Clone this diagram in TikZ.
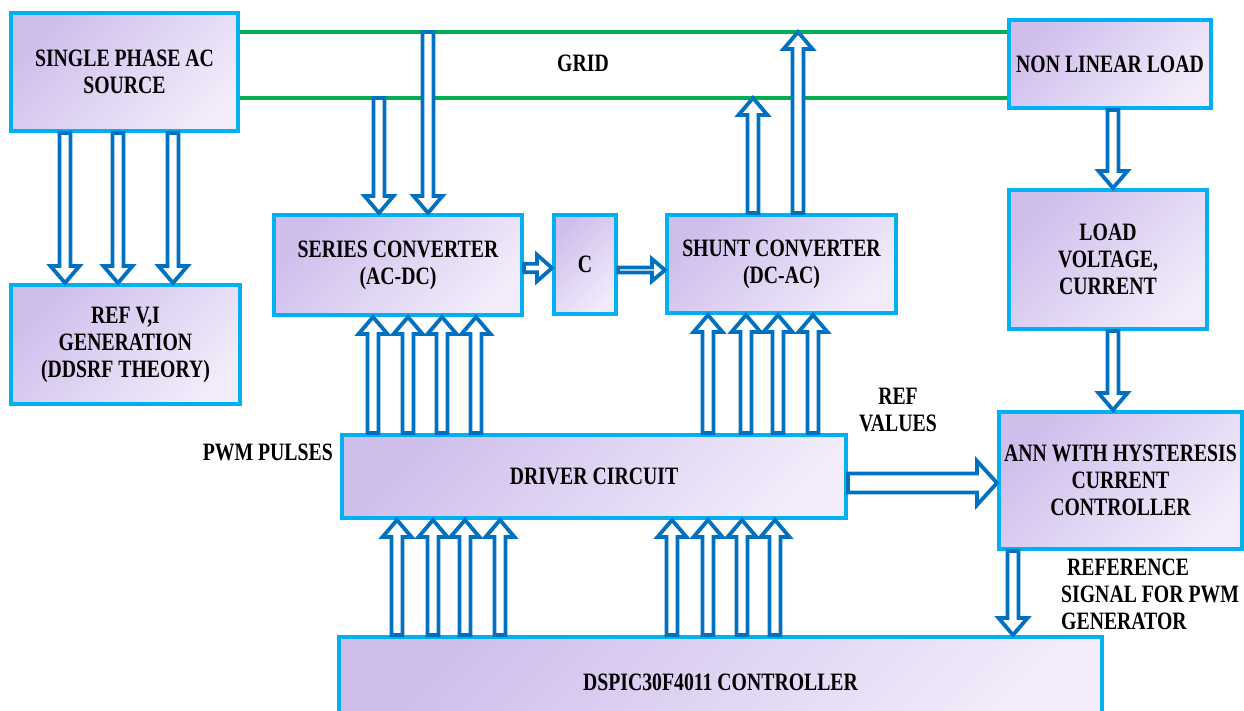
\documentclass[tikz,border=0pt]{standalone}
\usepackage{fontspec}
\setmainfont{Liberation Serif}[FakeStretch=0.79]
\usetikzlibrary{calc}
\definecolor{boxblue}{RGB}{0,176,240}
\definecolor{arrowblue}{RGB}{0,112,192}
\definecolor{gridgreen}{RGB}{0,176,80}
\definecolor{boxdark}{RGB}{207,190,236}
\definecolor{boxlight}{RGB}{241,235,250}

\begin{document}
\begin{tikzpicture}[x=1pt,y=-1pt,
    lbl/.style={font=\bfseries\fontsize{25}{27}\selectfont, align=center, inner sep=0pt},
    block/.style={lbl, draw=boxblue, line width=4pt, top color=boxdark,
      bottom color=boxlight, shading angle=45},
    gridline/.style={draw=gridgreen, line width=4pt},
    blockarrow/.style n args={3}{draw=arrowblue, line width=3.8pt, fill=white,
      line join=miter,
      to path={let \p1=(\tikztostart), \p2=(\tikztotarget),
        \n1={atan2(\y2-\y1,\x2-\x1)}, \n2={veclen(\x2-\x1,\y2-\y1)} in
        ++({\n1+90}:#1) -- ++(\n1:{\n2-#3}) -- ++({\n1+90}:{#2-#1})
        -- (\tikztotarget)
        -- ($(\tikztotarget)+({\n1+180}:#3)+({\n1-90}:#2)$)
        -- ++({\n1+90}:{#2-#1}) -- ++({\n1+180}:{\n2-#3}) -- cycle}},
    hollow/.style={blockarrow={5.5pt}{14.5pt}{17pt}}]
  \useasboundingbox (0,0) rectangle (1244,711);
  \clip (0,0) rectangle (1244,711);

  \node[block, minimum width=227pt, minimum height=118pt] (src) at (124.5,72)
    {SINGLE PHASE AC\\SOURCE};
  \node[block, minimum width=229pt, minimum height=119pt] (ref) at (125.5,344.5)
    {REF V,I\\GENERATION\\(DDSRF THEORY)};
  \node[block, minimum width=248pt, minimum height=100pt] (ser) at (398,265)
    {SERIES CONVERTER\\(AC-DC)};
  \node[block, minimum width=62pt, minimum height=99pt] (cap) at (585,264.5) {C};
  \node[block, minimum width=229pt, minimum height=98pt] (shu) at (781.5,264)
    {SHUNT CONVERTER\\(DC-AC)};
  \node[block, minimum width=202pt, minimum height=88pt] (nll) at (1110,64)
    {NON LINEAR LOAD};
  \node[block, minimum width=198pt, minimum height=139pt] (lvc) at (1108,259.5)
    {LOAD\\VOLTAGE,\\CURRENT};
  \node[block, minimum width=243pt, minimum height=137pt] (ann) at (1120.5,480.5)
    {ANN WITH HYSTERESIS\\CURRENT\\CONTROLLER};
  \node[block, minimum width=504pt, minimum height=83pt] (drv) at (594,476.5)
    {DRIVER CIRCUIT};
  \node[block, minimum width=763pt, minimum height=90pt] (dsp) at (720.5,682)
    {DSPIC30F4011 CONTROLLER};

  \node[lbl] (grid) at (583,63) {GRID};
  \node[lbl] (refv) at (898,410) {REF\\VALUES};
  \node[lbl, anchor=east] (pwm) at (333,452) {PWM PULSES};
  \node[lbl, anchor=west, align=left] (rsig) at (1061,594)
    {\hspace*{6pt}REFERENCE\\SIGNAL FOR PWM\\GENERATOR};

  \coordinate (gu) at (0,32);
  \coordinate (gl) at (0,98);
  \draw[gridline] (src.east |- gu) -- (nll.west |- gu);
  \draw[gridline] (src.east |- gl) -- (nll.west |- gl);

  \foreach \ax in {65,118,173}
    \draw[hollow] (\ax,0 |- src.south) to (\ax,0 |- ref.north);
  \draw[hollow] (379,0 |- gl) to (379,0 |- ser.north);
  \draw[hollow] (428,0 |- gu) to (428,0 |- ser.north);
  \draw[hollow] (753,0 |- shu.north) to (753,0 |- gl);
  \draw[hollow] (798,0 |- shu.north) to (798,0 |- gu);
  \draw[blockarrow={4.25pt}{13.25pt}{15pt}] (ser.east |- 0,268) to (cap.west |- 0,268);
  \draw[blockarrow={2.5pt}{11pt}{13pt}] (cap.east |- 0,270) to (shu.west |- 0,270);

  \foreach \ax/\blk in {373/ser,408/ser,442/ser,476/ser,708/shu,746/shu,778/shu,813/shu}
    \draw[hollow] (\ax,0 |- drv.north) to (\ax,0 |- \blk.south);
  \foreach \ax in {397,433,465,500,672,708,742,775}
    \draw[hollow] (\ax,0 |- dsp.north) to (\ax,0 |- drv.south);

  \draw[hollow] (1113,0 |- nll.south) to (1113,0 |- lvc.north);
  \draw[hollow] (1113,0 |- lvc.south) to (1113,0 |- ann.north);
  \draw[hollow] (1013,0 |- ann.south) to (1013,0 |- dsp.north);
  \draw[blockarrow={9.5pt}{22pt}{20pt}] (drv.east |- 0,483) to (ann.west |- 0,483);
\end{tikzpicture}
\end{document}
